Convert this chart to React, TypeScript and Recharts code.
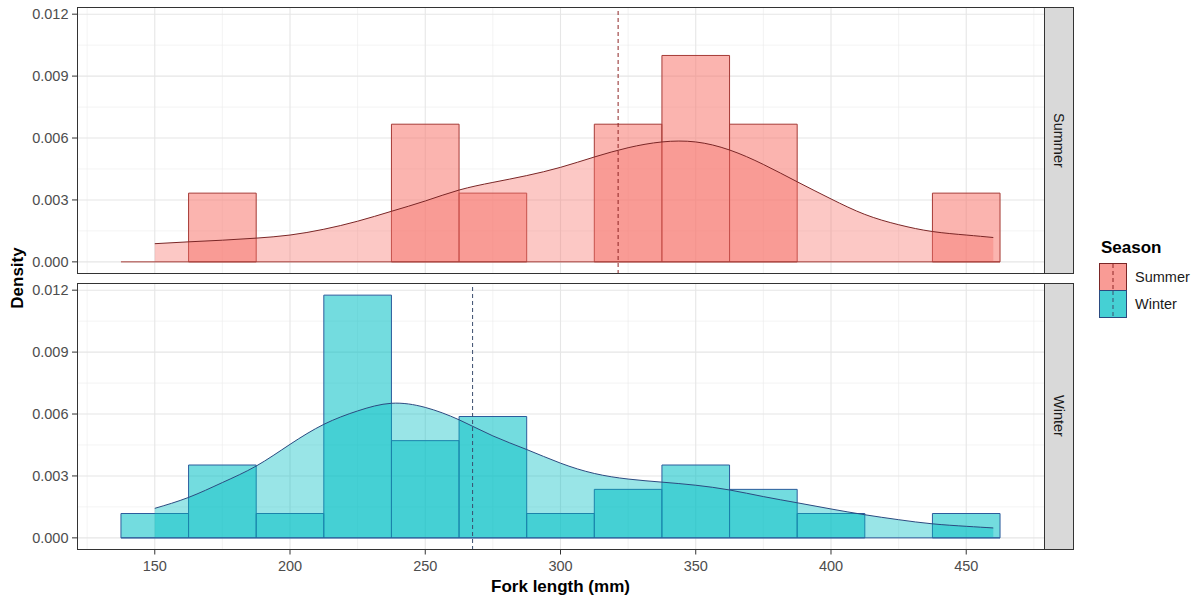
import React from 'react';
import {
  ComposedChart,
  Area,
  XAxis,
  YAxis,
  CartesianGrid,
  ReferenceArea,
  ReferenceLine,
} from 'recharts';

// histogram bins (binwidth 25), centres in mm
const binCenters = [150, 175, 200, 225, 250, 275, 300, 325, 350, 375, 400, 425, 450];
const binWidth = 25;
const summerHist = [0, 0.00333, 0, 0, 0.00667, 0.00333, 0, 0.00667, 0.01, 0.00667, 0, 0, 0.00333];
const winterHist = [0.00118, 0.00353, 0.00118, 0.01176, 0.00471, 0.00588, 0.00118, 0.00235, 0.00353, 0.00235, 0.00118, 0, 0.00118];

// kernel density
const densityX = [150, 162.5, 175, 187.5, 200, 212.5, 225, 237.5, 250, 262.5, 275, 287.5, 300, 312.5, 325, 337.5, 350, 362.5, 375, 387.5, 400, 412.5, 425, 437.5, 450, 460];
const summerDensity = [0.00088, 0.00097, 0.00105, 0.00115, 0.0013, 0.00158, 0.00197, 0.00245, 0.00295, 0.00348, 0.00385, 0.00418, 0.00458, 0.00508, 0.00553, 0.00581, 0.00581, 0.00542, 0.00472, 0.00388, 0.00305, 0.0023, 0.0018, 0.00147, 0.0013, 0.00118];
const winterDensity = [0.00143, 0.00196, 0.00268, 0.00348, 0.00453, 0.0055, 0.00615, 0.00652, 0.00632, 0.00572, 0.00494, 0.00428, 0.00362, 0.00312, 0.00285, 0.0027, 0.00255, 0.00232, 0.002, 0.0017, 0.0014, 0.00112, 0.00088, 0.00068, 0.00056, 0.00048];

const seasons = ['Summer', 'Winter'];
const seasonMeans = [321.3, 267.5];

const xTicks = [150, 200, 250, 300, 350, 400, 450];
const xMinor = [125, 175, 225, 275, 325, 375, 425, 475];
const yTicks = [0, 0.003, 0.006, 0.009, 0.012];
const yMinor = [0.0015, 0.0045, 0.0075, 0.0105];

const X_DOMAIN = [121.25, 478.75];
const Y_DOMAIN = [-0.000588, 0.012348];

const FONT = '"Liberation Sans", Arial, sans-serif';

const palette = {
  Summer: { fill: '#F8766D', bar: '#A63A36', line: '#7A2626', vline: '#8E2424' },
  Winter: { fill: '#00BFC4', bar: '#2D5C9C', line: '#2B4A80', vline: '#3B4E6E' },
} as const;

type Season = 'Summer' | 'Winter';

const Panel = ({ season, hist, density, mean, showX, top, height }: {
  season: Season;
  hist: number[];
  density: number[];
  mean: number;
  showX: boolean;
  top: number;
  height: number;
}) => {
  const col = palette[season];
  const data = densityX.map((x, i) => ({ x, y: density[i] }));
  const bins = binCenters.map((c, i) => ({ lo: c - binWidth / 2, hi: c + binWidth / 2, d: hist[i] }));

  return (
    <div style={{ position: 'absolute', left: 0, top }}>
      <ComposedChart
        width={1045}
        height={height}
        data={data}
        margin={{ top: 7, right: 1, left: 0, bottom: showX ? 0 : 1 }}
      >
        <CartesianGrid
          stroke="#EBEBEB"
          strokeWidth={0.6}
          horizontalValues={yMinor}
          verticalValues={xMinor}
        />
        <CartesianGrid
          stroke="#E6E6E6"
          strokeWidth={1.1}
          horizontalValues={yTicks}
          verticalValues={xTicks}
        />
        <XAxis
          dataKey="x"
          type="number"
          domain={X_DOMAIN}
          ticks={xTicks}
          allowDataOverflow
          hide={!showX}
          height={47}
          axisLine={false}
          tickLine={{ stroke: '#333333' }}
          tickSize={4.5}
          tickMargin={6}
          tick={{ fill: '#4D4D4D', fontSize: 14.5, fontFamily: FONT }}
          label={{
            value: 'Fork length (mm)',
            position: 'insideBottom',
            offset: 5,
            style: { fill: '#000', fontSize: 17, fontWeight: 'bold', fontFamily: FONT },
          }}
        />
        <YAxis
          type="number"
          domain={Y_DOMAIN}
          ticks={yTicks}
          allowDataOverflow
          width={77}
          axisLine={false}
          tickLine={{ stroke: '#333333' }}
          tickSize={5}
          tickMargin={3.5}
          tickFormatter={(v: number) => v.toFixed(3)}
          tick={{ fill: '#4D4D4D', fontSize: 14.5, fontFamily: FONT }}
        />
        {bins.filter((b) => b.d > 0).map((b) => (
          <ReferenceArea
            key={b.lo}
            x1={b.lo}
            x2={b.hi}
            y1={0}
            y2={b.d}
            fill={col.fill}
            fillOpacity={0.55}
            stroke={col.bar}
            strokeWidth={1}
            strokeOpacity={1}
          />
        ))}
        <ReferenceLine
          segment={[{ x: binCenters[0] - binWidth / 2, y: 0 }, { x: binCenters[binCenters.length - 1] + binWidth / 2, y: 0 }]}
          stroke={col.bar}
          strokeWidth={1}
        />
        <Area
          type="natural"
          dataKey="y"
          baseValue={0}
          stroke={col.line}
          strokeWidth={1}
          fill={col.fill}
          fillOpacity={0.4}
          isAnimationActive={false}
          dot={false}
          activeDot={false}
        />
        <ReferenceLine x={mean} stroke={col.vline} strokeWidth={1} strokeDasharray="4 3" />
      </ComposedChart>
      <div
        style={{
          position: 'absolute',
          left: 77,
          top: 6.5,
          width: 968,
          height: height - (showX ? 47 : 1) - 6.5,
          border: '1px solid #333333',
          boxSizing: 'border-box',
          pointerEvents: 'none',
        }}
      />
      <div
        style={{
          position: 'absolute',
          left: 1044,
          top: 6.5,
          width: 30,
          height: height - (showX ? 47 : 1) - 6.5,
          background: '#D9D9D9',
          border: '1px solid #333333',
          boxSizing: 'border-box',
          display: 'flex',
          alignItems: 'center',
          justifyContent: 'center',
        }}
      >
        <span style={{ writingMode: 'vertical-rl', fontFamily: FONT, fontSize: 14.5, color: '#1A1A1A' }}>
          {season}
        </span>
      </div>
    </div>
  );
};

const LegendKey = ({ season }: { season: Season }) => {
  const col = palette[season];
  return (
    <svg width={28} height={28} style={{ display: 'block' }}>
      <rect x={0.5} y={0.5} width={27} height={27} fill="#fff" />
      <rect x={0.5} y={0.5} width={27} height={27} fill={col.fill} fillOpacity={0.55} />
      <rect x={0.5} y={0.5} width={27} height={27} fill={col.fill} fillOpacity={0.4} stroke={col.line} strokeWidth={1} />
      <line x1={14} y1={1} x2={14} y2={27} stroke={col.vline} strokeWidth={1} strokeDasharray="4 3" />
    </svg>
  );
};

export default function App() {
  return (
    <div style={{ position: 'absolute', left: 0, top: 0, width: 1196, height: 597, background: '#fff', fontFamily: FONT }}>
      <Panel season="Summer" hist={summerHist} density={summerDensity} mean={seasonMeans[0]} showX={false} top={0} height={275} />
      <Panel season="Winter" hist={winterHist} density={winterDensity} mean={seasonMeans[1]} showX={true} top={276} height={321} />

      <div
        style={{
          position: 'absolute',
          left: 18,
          top: 278,
          transform: 'translate(-50%, -50%) rotate(-90deg)',
          fontSize: 17,
          fontWeight: 'bold',
          whiteSpace: 'nowrap',
        }}
      >
        Density
      </div>

      <div style={{ position: 'absolute', left: 1099, top: 238 }}>
        <div style={{ fontSize: 17, fontWeight: 'bold', lineHeight: '20px', marginLeft: 2, marginBottom: 5 }}>Season</div>
        {seasons.map((s) => (
          <div key={s} style={{ display: 'flex', alignItems: 'center', height: 27.5 }}>
            <LegendKey season={s as Season} />
            <span style={{ marginLeft: 8, fontSize: 14.5, color: '#1A1A1A' }}>{s}</span>
          </div>
        ))}
      </div>
    </div>
  );
}
